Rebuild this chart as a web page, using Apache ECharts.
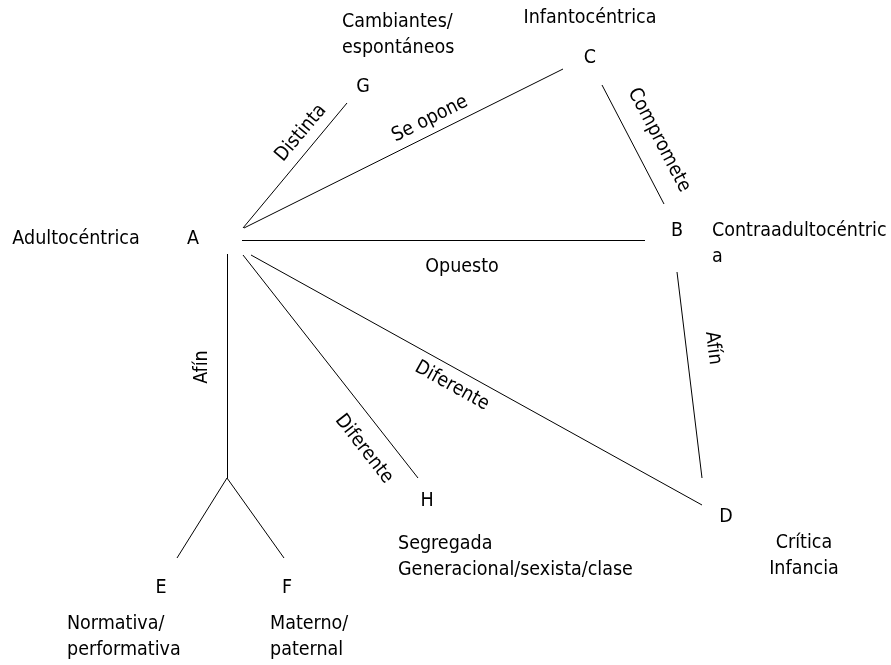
<!DOCTYPE html>
<html>
<head>
<meta charset="utf-8">
<script src="https://cdn.jsdelivr.net/npm/echarts@6/dist/echarts.min.js"></script>
<style>
html,body{margin:0;padding:0;background:#fff;}
#chart{width:891px;height:665px;}
</style>
</head>
<body>
<div id="chart"></div>
<script>
// Edges of the diagram: [x1, y1, x2, y2] in diagram units
const edges = [
  [243, 228, 347, 103],   // A - G
  [244, 228, 563, 69],    // A - C
  [602, 85, 664, 204],    // C - B
  [242, 240, 645, 240],   // A - B
  [677, 272, 702, 478],   // B - D
  [251, 255, 702, 505],   // A - D
  [243, 255, 418, 478],   // A - H
  [227, 254, 227, 478],   // A - fork
  [227, 478, 177, 558],   // fork - E
  [227, 478, 284, 558]    // fork - F
];

// Node letters
const nodeNames = ['A', 'G', 'C', 'B', 'D', 'H', 'E', 'F'];
const nodeX = [193, 363, 590, 677, 726, 427, 161, 287];
const nodeY = [239, 87, 58, 231, 517, 501, 588, 588];

// Node descriptions
const descTexts = ['Adultocéntrica', 'Cambiantes/\nespontáneos', 'Infantocéntrica',
  'Contraadultocéntric\na', 'Segregada\nGeneracional/sexista/clase', 'Crítica\nInfancia',
  'Normativa/\nperformativa', 'Materno/\npaternal'];
const descX = [76, 342, 590, 712, 398, 804, 67, 270];
const descY = [239, 35, 18, 244, 557, 556, 637, 637];
const descAlign = ['center', 'left', 'center', 'left', 'left', 'center', 'left', 'left'];

// Edge relation labels
const relTexts = ['Distinta', 'Se opone', 'Compromete', 'Opuesto', 'Afín', 'Afín', 'Diferente', 'Diferente'];
const relX = [301, 430, 659, 462, 713, 202, 364, 452];
const relY = [133, 119, 140, 267, 348, 367, 449, 386];
const relAngle = [50, 26.5, -62.5, 0, -83, 90, -52, -29];

const FONT = "'DejaVu Sans Condensed', 'DejaVu Sans', sans-serif";
const FS = 19.5;

const chart = echarts.init(document.getElementById('chart'), null, {renderer: 'canvas'});

function textData(xs, ys, texts, aligns, angles) {
  return texts.map((t, i) => ({
    value: [xs[i], ys[i]],
    name: t,
    label: {
      align: aligns ? aligns[i] : 'center',
      rotate: angles ? angles[i] : 0
    }
  }));
}

const labelBase = {
  show: true,
  position: 'inside',
  formatter: p => p.name,
  color: '#000',
  opacity: 1,
  fontFamily: FONT,
  fontSize: FS,
  lineHeight: 26,
  verticalAlign: 'middle'
};

function textSeries(data) {
  return {
    type: 'scatter',
    symbolSize: 0,
    silent: true,
    itemStyle: {opacity: 1},
    label: labelBase,
    data: data
  };
}

chart.setOption({
  animation: false,
  backgroundColor: '#fff',
  grid: {left: 0, right: 0, top: 0, bottom: 0},
  xAxis: {type: 'value', min: 0, max: 891, show: false},
  yAxis: {type: 'value', min: 0, max: 665, inverse: true, show: false},
  series: [
    {
      type: 'lines',
      coordinateSystem: 'cartesian2d',
      silent: true,
      lineStyle: {color: '#000', width: 1, opacity: 1},
      data: edges.map(e => ({coords: [[e[0], e[1]], [e[2], e[3]]]}))
    },
    textSeries(textData(nodeX, nodeY, nodeNames)),
    textSeries(textData(descX, descY, descTexts, descAlign)),
    textSeries(textData(relX, relY, relTexts, null, relAngle))
  ]
});
</script>
</body>
</html>
